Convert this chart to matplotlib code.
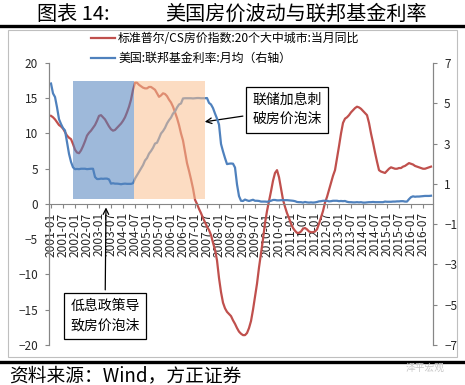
import numpy as np
import matplotlib.pyplot as plt
from matplotlib.lines import Line2D
from matplotlib.patches import Rectangle

plt.switch_backend('agg')
plt.rcParams['font.family'] = ['Noto Sans CJK SC', 'DejaVu Sans']

# S&P/CS 20-city YoY (%), monthly from 2001-01, left axis
cs_2001 = [12.5, 12.3, 12.0, 11.6, 11.2, 11.0, 10.7, 10.2, 9.7, 9.4, 9.2, 8.5]
cs_2002 = [7.7, 7.3, 7.2, 7.6, 8.2, 8.9, 9.7, 10.1, 10.4, 10.8, 11.2, 11.8]
cs_2003 = [12.5, 12.6, 12.3, 12.0, 11.5, 11.0, 10.6, 10.4, 10.5, 10.8, 11.1, 11.4]
cs_2004 = [11.8, 12.3, 13.0, 13.8, 14.8, 16.2, 17.2, 17.2, 16.9, 16.7, 16.5, 16.4]
cs_2005 = [16.4, 16.6, 16.6, 16.4, 16.2, 15.7, 15.2, 15.4, 15.7, 15.6, 15.3, 14.8]
cs_2006 = [14.4, 13.8, 13.0, 12.2, 11.2, 10.0, 9.0, 7.4, 5.8, 4.7, 3.5, 2.2]
cs_2007 = [0.6, 0.0, -0.7, -1.3, -2.0, -2.6, -3.2, -3.7, -4.4, -5.5, -6.5, -8.0]
cs_2008 = [-10.5, -12.5, -14.0, -14.8, -15.3, -15.6, -15.9, -16.5, -17.0, -17.6, -18.1, -18.4]
cs_2009 = [-18.6, -18.6, -18.3, -17.6, -16.6, -15.0, -13.2, -11.3, -9.0, -7.0, -5.0, -2.7]
cs_2010 = [-1.0, 0.4, 1.8, 3.3, 4.4, 4.8, 3.8, 2.2, 0.6, -0.4, -1.3, -2.0]
cs_2011 = [-2.8, -3.4, -3.8, -4.1, -4.1, -3.9, -3.5, -3.4, -3.6, -3.9, -4.0, -4.0]
cs_2012 = [-3.9, -3.6, -2.8, -1.9, -1.0, 0.2, 1.0, 2.0, 3.0, 4.0, 4.8, 6.5]
cs_2013 = [8.2, 10.0, 11.5, 12.1, 12.3, 12.6, 13.0, 13.3, 13.6, 13.8, 13.7, 13.5]
cs_2014 = [13.2, 12.9, 12.6, 11.5, 10.0, 8.7, 7.3, 6.0, 4.8, 4.6, 4.5, 4.4]
cs_2015 = [4.7, 5.0, 5.2, 5.1, 5.0, 5.0, 5.1, 5.1, 5.3, 5.4, 5.6, 5.8]
cs_2016 = [5.7, 5.6, 5.4, 5.3, 5.2, 5.1, 5.0, 5.0, 5.1, 5.2, 5.3]

# US fed funds rate, monthly average (%), right axis
ff_2001 = [5.98, 5.49, 5.31, 4.80, 4.21, 3.97, 3.77, 3.65, 3.07, 2.49, 2.09, 1.82]
ff_2002 = [1.73, 1.74, 1.73, 1.75, 1.75, 1.75, 1.73, 1.74, 1.75, 1.75, 1.34, 1.24]
ff_2003 = [1.24, 1.26, 1.25, 1.26, 1.26, 1.22, 1.01, 1.03, 1.01, 1.01, 1.00, 0.98]
ff_2004 = [1.00, 1.01, 1.00, 1.00, 1.00, 1.03, 1.26, 1.43, 1.61, 1.76, 1.93, 2.16]
ff_2005 = [2.28, 2.50, 2.63, 2.79, 3.00, 3.04, 3.26, 3.50, 3.62, 3.78, 4.00, 4.16]
ff_2006 = [4.29, 4.49, 4.59, 4.79, 4.94, 4.99, 5.24, 5.25, 5.25, 5.25, 5.25, 5.24]
ff_2007 = [5.25, 5.26, 5.26, 5.25, 5.25, 5.25, 5.26, 5.02, 4.94, 4.76, 4.49, 4.24]
ff_2008 = [3.94, 2.98, 2.61, 2.28, 1.98, 2.00, 2.01, 2.00, 1.81, 0.97, 0.39, 0.16]
ff_2009 = [0.15, 0.22, 0.18, 0.15, 0.18, 0.21, 0.16, 0.16, 0.15, 0.12, 0.12, 0.12]
ff_2010 = [0.11, 0.13, 0.16, 0.20, 0.20, 0.18, 0.18, 0.19, 0.19, 0.19, 0.19, 0.18]
ff_2011 = [0.17, 0.16, 0.14, 0.10, 0.09, 0.09, 0.07, 0.10, 0.08, 0.07, 0.08, 0.07]
ff_2012 = [0.08, 0.10, 0.13, 0.14, 0.16, 0.16, 0.16, 0.13, 0.14, 0.16, 0.16, 0.16]
ff_2013 = [0.14, 0.15, 0.14, 0.15, 0.11, 0.09, 0.09, 0.08, 0.08, 0.09, 0.08, 0.09]
ff_2014 = [0.07, 0.07, 0.08, 0.09, 0.09, 0.10, 0.09, 0.09, 0.09, 0.09, 0.09, 0.12]
ff_2015 = [0.11, 0.11, 0.11, 0.12, 0.12, 0.13, 0.13, 0.14, 0.14, 0.12, 0.12, 0.24]
ff_2016 = [0.34, 0.38, 0.36, 0.37, 0.37, 0.38, 0.39, 0.40, 0.40, 0.40, 0.41]

cs_yoy = (cs_2001 + cs_2002 + cs_2003 + cs_2004 + cs_2005 + cs_2006 + cs_2007 + cs_2008
          + cs_2009 + cs_2010 + cs_2011 + cs_2012 + cs_2013 + cs_2014 + cs_2015 + cs_2016)
fed_rate = (ff_2001 + ff_2002 + ff_2003 + ff_2004 + ff_2005 + ff_2006 + ff_2007 + ff_2008
            + ff_2009 + ff_2010 + ff_2011 + ff_2012 + ff_2013 + ff_2014 + ff_2015 + ff_2016)

# tick labels every 6 months
x_labels = ['%d-%02d' % (y, m) for y in range(2001, 2017) for m in (1, 7)]

# shaded periods (month index from 2001-01), vertical extent on left axis
shade_start = [11, 41.5]
shade_end = [41.5, 77]
shade_colors = ['#4F81BD', '#FAC090']
shade_low, shade_high = 0.7, 17.4

red = '#C0504D'
blue = '#4F81BD'
grey = '#868686'

months = np.arange(len(fed_rate))

fig = plt.figure(figsize=(4.65, 3.85), dpi=100)
ax = fig.add_axes([0.1054, 0.1039, 0.8258, 0.7325])
ax2 = ax.twinx()

ax.plot(np.arange(len(cs_yoy)), cs_yoy, color=red, lw=1.6)
ax2.plot(months, fed_rate, color=blue, lw=1.6)

ax.set_ylim(-20, 20)
ax.set_yticks(np.arange(-20, 21, 5))
ax2.set_ylim(-7, 7)
ax2.set_yticks(np.arange(-7, 8, 2))
ax.set_xlim(-1, 191)

# shaded boxes drawn on top, semi transparent (like the Excel shapes)
for s, e, c in zip(shade_start, shade_end, shade_colors):
    ax2.axvspan(s, e, ymin=(shade_low + 20) / 40, ymax=(shade_high + 20) / 40,
                color=c, alpha=0.55, lw=0, zorder=5)

# x axis at 0
for a in (ax, ax2):
    a.spines['top'].set_visible(False)
    a.spines['bottom'].set_visible(False)
    a.spines['left'].set_color(grey)
    a.spines['right'].set_color(grey)
ax.spines['bottom'].set_visible(True)
ax.spines['bottom'].set_position(('data', 0))
ax.spines['bottom'].set_color(grey)

ax.set_xticks(np.arange(0, 191, 6))
ax.set_xticklabels(x_labels, rotation=90, fontsize=8.6, color='#262626')
ax.tick_params(axis='x', length=3, color=grey, pad=3)
ax.tick_params(axis='y', length=3, color=grey, labelsize=8.5, labelcolor='#262626', pad=5)
ax2.tick_params(axis='y', length=3, color=grey, labelsize=8.5, labelcolor='#262626', pad=5)

# legend
handles = [Line2D([], [], color=red, lw=1.6), Line2D([], [], color=blue, lw=1.6)]
labels = ['标准普尔/CS房价指数:20个大中城市:当月同比', '美国:联邦基金利率:月均（右轴）']
fig.legend(handles, labels, loc='upper left', bbox_to_anchor=(0.195, 0.917),
           frameon=False, fontsize=8.6, handlelength=2.0, handletextpad=0.3,
           labelspacing=0.6, borderpad=0, borderaxespad=0)

# annotations
ax.annotate('联储加息刺\n破房价泡沫', xy=(75.5, 11.6), xytext=(118, 13.4),
            ha='center', va='center', fontsize=10, linespacing=1.5, zorder=10,
            bbox=dict(boxstyle='square,pad=0.45', fc='white', ec='black', lw=0.9),
            arrowprops=dict(arrowstyle='->', color='black', lw=0.9))
ax.annotate('低息政策导\n致房价泡沫', xy=(27.5, -0.1), xytext=(27, -15.9),
            ha='center', va='center', fontsize=10, linespacing=1.5, zorder=10,
            bbox=dict(boxstyle='square,pad=0.45', fc='white', ec='black', lw=0.9),
            arrowprops=dict(arrowstyle='->', color='black', lw=0.9))

# frame, title and source
fig.patches.append(Rectangle((0.017, 0.073), 0.966, 0.849, transform=fig.transFigure,
                             fill=False, ec='#BFBFBF', lw=0.8))
fig.lines.append(Line2D([0, 1], [0.932, 0.932], transform=fig.transFigure, color='black', lw=2.4))
fig.lines.append(Line2D([0, 1], [0.06, 0.06], transform=fig.transFigure, color='black', lw=2.4))
fig.text(0.08, 0.962, '图表 14:', fontsize=14.5, va='center')
fig.text(0.355, 0.962, '美国房价波动与联邦基金利率', fontsize=14.5, va='center')
fig.text(0.02, 0.025, '资料来源：Wind，方正证券', fontsize=13.5, va='center', style='italic')
fig.text(0.915, 0.045, '泽平宏观', fontsize=7, va='center', ha='center', color='#C8C8C8')

plt.savefig('out.png', dpi=100)
